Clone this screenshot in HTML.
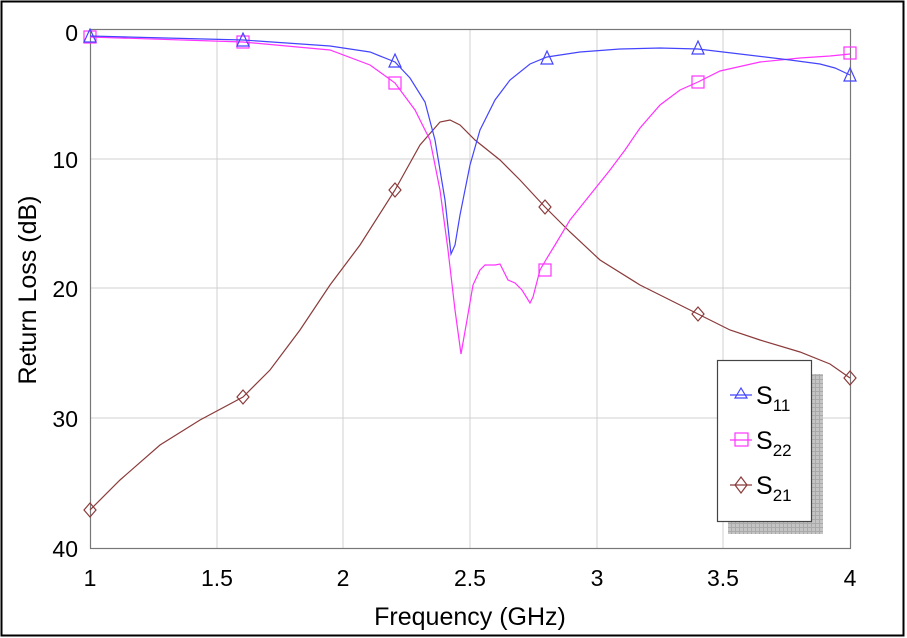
<!DOCTYPE html>
<html><head><meta charset="utf-8"><style>
html,body{margin:0;padding:0;background:#fff;}
svg{display:block;}
text{font-family:"Liberation Sans",Arial,sans-serif;fill:#000;}
</style></head><body>
<svg width="907" height="638" viewBox="0 0 907 638" xmlns="http://www.w3.org/2000/svg">
<defs>
<pattern id="hatch" width="4" height="4" patternUnits="userSpaceOnUse">
<rect width="4" height="4" fill="#aaa"/><rect width="3" height="3" fill="#c4c4c4"/>
</pattern>
</defs>
<rect x="1.5" y="1.5" width="902" height="634" fill="#fff" stroke="#000" stroke-width="2"/>
<g stroke="#d0d0d0" stroke-width="1">
<line x1="217" y1="29" x2="217" y2="548"/><line x1="343" y1="29" x2="343" y2="548"/>
<line x1="470" y1="29" x2="470" y2="548"/><line x1="597" y1="29" x2="597" y2="548"/>
<line x1="723" y1="29" x2="723" y2="548"/>
<line x1="90" y1="159" x2="850" y2="159"/><line x1="90" y1="288" x2="850" y2="288"/>
<line x1="90" y1="418" x2="850" y2="418"/>
</g>
<rect x="90.5" y="29.5" width="760" height="519" fill="none" stroke="#777" stroke-width="1.2"/>
<g fill="none" stroke="#8b3a3a" stroke-width="1.2">
<polyline points="90,510 120,480 160,445 200,420 243,397 270,370 300,330 330,285 360,245 395,190 420,145 440,122 450,120 460,125 475,140 500,160 520,180 545,207 570,232 600,260 640,285 670,300 698,314 730,330 760,340 800,352 830,364 850,378"/>
<path d="M90,503 l6,7 -6,7 -6,-7z"/><path d="M243,390 l6,7 -6,7 -6,-7z"/><path d="M395,183 l6,7 -6,7 -6,-7z"/>
<path d="M545,200 l6,7 -6,7 -6,-7z"/><path d="M698,307 l6,7 -6,7 -6,-7z"/><path d="M850,371 l6,7 -6,7 -6,-7z"/>
</g>
<g fill="none" stroke="#ff33ff" stroke-width="1.2">
<polyline points="90,37 243,42 330,50 370,65 395,83 415,110 430,140 440,190 448,250 455,310 461,354 467,320 473,285 480,270 485,265 495,265 500,264 508,280 515,283 522,290 530,303 533,297 540,270 547,258 555,245 570,220 590,195 610,170 625,150 640,128 660,105 680,90 698,82 720,71 760,62 800,58 830,56 850,54"/>
<rect x="84" y="31" width="12" height="12"/><rect x="237" y="36" width="12" height="12"/><rect x="389" y="77" width="12" height="12"/>
<rect x="539" y="264" width="12" height="12"/><rect x="692" y="76" width="12" height="12"/><rect x="844" y="47" width="12" height="12"/>
</g>
<g fill="none" stroke="#4444ff" stroke-width="1.2">
<polyline points="90,36 243,40 330,46 370,52 395,62 410,78 425,102 435,140 445,200 451,254 455,245 460,215 470,165 480,130 495,100 510,80 530,64 547,57 580,52 620,49 660,48 698,49 740,54 790,60 820,64 835,68 850,75"/>
<path d="M90,29 l6,13 h-12z"/><path d="M243,33 l6,13 h-12z"/><path d="M395,54 l6,13 h-12z"/>
<path d="M547,51 l6,13 h-12z"/><path d="M698,41 l6,13 h-12z"/><path d="M850,68 l6,13 h-12z"/>
</g>
<rect x="728" y="374" width="95" height="160" fill="url(#hatch)"/>
<rect x="717.5" y="360.5" width="94" height="161" fill="#fff" stroke="#444" stroke-width="1.2"/>
<g fill="none" stroke-width="1.2">
<line x1="730" y1="395" x2="752" y2="395" stroke="#4444ff"/><path d="M741,388 l6,10 h-12z" stroke="#4444ff"/>
<line x1="730" y1="440" x2="752" y2="440" stroke="#ff33ff"/><rect x="735" y="433" width="13" height="13" stroke="#ff33ff"/>
<line x1="730" y1="485" x2="752" y2="485" stroke="#8b3a3a"/><path d="M741,477 l6,8 -6,8 -6,-8z" stroke="#8b3a3a"/>
</g>
<text x="756" y="404" font-size="25">S<tspan font-size="17" dy="7">11</tspan></text>
<text x="756" y="449" font-size="25">S<tspan font-size="17" dy="7">22</tspan></text>
<text x="756" y="494" font-size="25">S<tspan font-size="17" dy="7">21</tspan></text>
<g font-size="23" text-anchor="end">
<text x="78" y="41">0</text><text x="78" y="168">10</text><text x="78" y="297">20</text>
<text x="78" y="427">30</text><text x="78" y="557">40</text>
</g>
<g font-size="23" text-anchor="middle">
<text x="90" y="586">1</text><text x="217" y="586">1.5</text><text x="343" y="586">2</text>
<text x="470" y="586">2.5</text><text x="597" y="586">3</text><text x="723" y="586">3.5</text><text x="850" y="586">4</text>
</g>
<text x="470" y="625" font-size="25" text-anchor="middle">Frequency (GHz)</text>
<text transform="translate(36,290) rotate(-90)" font-size="25" text-anchor="middle">Return Loss (dB)</text>
</svg>
</body></html>
